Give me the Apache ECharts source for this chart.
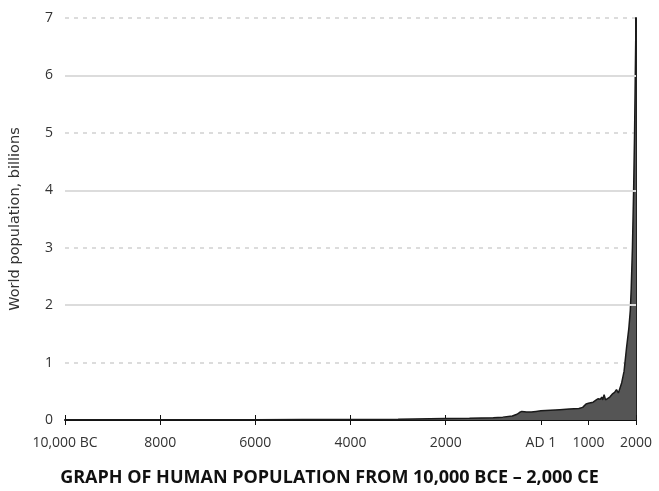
<!DOCTYPE html>
<html>
<head>
<meta charset="utf-8">
<script src="https://cdn.jsdelivr.net/npm/echarts@6/dist/echarts.min.js"></script>
<style>html,body{margin:0;padding:0;background:#fff;}#c{width:659px;height:491px;}</style>
</head>
<body>
<div id="c"></div>
<script>
const years = [-10000, -8000, -6000, -5000, -4000, -3000, -2000, -1500, -1000, -800, -600, -500, -450, -420, -400, -300, -200, -100, 1, 200, 400, 600, 800, 880, 950, 1000, 1100, 1150, 1200, 1250, 1280, 1300, 1330, 1360, 1400, 1450, 1500, 1550, 1590, 1630, 1660, 1700, 1750, 1775, 1800, 1850, 1880, 1900, 1925, 1950, 1970, 1985, 2000];
const population = [0.004, 0.005, 0.006, 0.007, 0.008, 0.014, 0.025, 0.03, 0.04, 0.05, 0.07, 0.1, 0.13, 0.15, 0.15, 0.14, 0.14, 0.15, 0.16, 0.17, 0.18, 0.19, 0.2, 0.22, 0.28, 0.29, 0.31, 0.34, 0.37, 0.36, 0.4, 0.35, 0.44, 0.35, 0.38, 0.4, 0.45, 0.48, 0.53, 0.47, 0.5, 0.65, 0.85, 1.05, 1.25, 1.6, 1.9, 2.3, 3.0, 4.0, 5.0, 6.0, 7.0];
const tickValues = [-10000, -8000, -6000, -4000, -2000, 1, 1000, 2000];
const tickLabels = ['10,000 BC', '8000', '6000', '4000', '2000', 'AD 1', '1000', '2000'];
const solidGridValues = [2, 4, 6];
const titleText = 'GRAPH OF HUMAN POPULATION FROM 10,000 BCE \u2013 2,000 CE';
const yName = 'World population, billions';

const chart = echarts.init(document.getElementById('c'), null, {renderer: 'canvas'});
const labelFor = v => { const i = tickValues.indexOf(v); return i >= 0 ? tickLabels[i] : ''; };
const baseX = {
  type: 'value', min: -10000, max: 2000, position: 'bottom',
  splitLine: {show: false}
};
chart.setOption({
  animation: false,
  title: {
    text: titleText, left: 'center', top: 464,
    textStyle: {fontFamily: 'Open Sans', fontWeight: 'bold', fontSize: 18, color: '#111'}
  },
  grid: {left: 65, right: 23, top: 18, bottom: 71, containLabel: false},
  xAxis: [
    Object.assign({}, baseX, {
      axisLine: {show: true, onZero: false, lineStyle: {color: '#111', width: 2}},
      axisTick: {show: true, length: 5, customValues: tickValues, lineStyle: {color: '#111', width: 1}},
      axisLabel: {show: true, customValues: tickValues, formatter: v => labelFor(v), margin: 16,
        fontFamily: 'Open Sans', fontSize: 14, color: '#333'}
    }),
    Object.assign({}, baseX, {
      axisLine: {show: false, onZero: false},
      axisTick: {show: true, inside: true, length: 5, customValues: tickValues, lineStyle: {color: '#111', width: 1}},
      axisLabel: {show: false}
    })
  ],
  yAxis: [
    {
      type: 'value', min: 0, max: 7, interval: 1, position: 'left',
      name: yName, nameLocation: 'middle', nameGap: 42, nameRotate: 90,
      nameTextStyle: {fontFamily: 'DejaVu Sans', fontSize: 14.5, color: '#333'},
      axisLine: {show: false, onZero: false}, axisTick: {show: false},
      axisLabel: {margin: 12, fontFamily: 'Open Sans', fontSize: 14, color: '#333'},
      splitLine: {show: true, lineStyle: {color: '#dcdcdc', width: 2, type: [4, 5]}}
    },
    {
      type: 'value', min: 0, max: 7, interval: 1, position: 'right',
      axisLine: {show: true, onZero: false, lineStyle: {color: '#222', width: 2}},
      axisTick: {show: false}, axisLabel: {show: false},
      splitLine: {show: false}
    }
  ],
  series: [
    {
      type: 'line', xAxisIndex: 0, yAxisIndex: 0, data: [], silent: true, z: 1,
      markLine: {
        silent: true, symbol: ['none', 'none'], label: {show: false},
        lineStyle: {color: '#dcdcdc', width: 2, type: 'solid'},
        data: solidGridValues.map(v => ({yAxis: v}))
      }
    },
    {
      type: 'line', xAxisIndex: 0, yAxisIndex: 0,
      data: years.map((y, i) => [y, population[i]]),
      showSymbol: false, symbol: 'none',
      lineStyle: {color: '#1a1a1a', width: 1.5},
      areaStyle: {color: '#555555', opacity: 1},
      z: 3
    }
  ]
});
</script>
</body>
</html>
